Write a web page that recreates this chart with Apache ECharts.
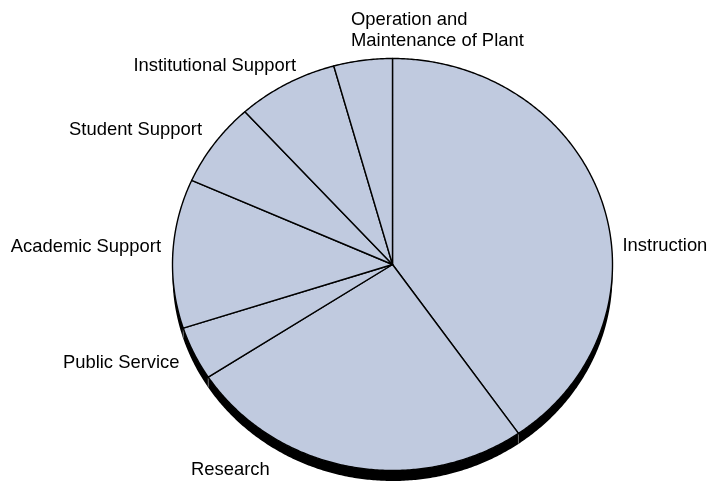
<!DOCTYPE html>
<html>
<head>
<meta charset="utf-8">
<script src="https://cdn.jsdelivr.net/npm/echarts@6/dist/echarts.min.js"></script>
<style>
  html, body { margin: 0; padding: 0; background: #ffffff; }
  #chart { width: 707px; height: 485px; }
</style>
</head>
<body>
<div id="chart"></div>
<script>
// Expenditure categories, clockwise from 12 o'clock
const categories = [
  'Instruction',
  'Research',
  'Public Service',
  'Academic Support',
  'Student Support',
  'Institutional Support',
  'Operation and\nMaintenance of Plant'
];
// Share of total (percent)
const shares = [40.3, 25.5, 4.2, 11.7, 6.6, 7.4, 4.3];

// Tilted disc geometry: elliptical face plus a dark rim underneath
const PIE = { cx: 392.5, cy: 264.5, rx: 220, ry: 206, depth: 10.5 };

// Label anchors, as offsets from the pie centre
const labelLayout = [
  { dx: 230,    dy: -18.5, align: 'left'  },
  { dx: -201.5, dy: 205.5, align: 'left'  },
  { dx: -213,   dy: 98.5,  align: 'right' },
  { dx: -231.5, dy: -17.5, align: 'right' },
  { dx: -190.5, dy: -134.5,align: 'right' },
  { dx: -96.5,  dy: -198.5,align: 'right' },
  { dx: -41.5,  dy: -234,  align: 'left'  }
];

const FACE = '#c0cadf';
const FONT = '18.4px "Liberation Sans", Arial, Helvetica, sans-serif';

function pointAt(theta, shift) {
  return [
    PIE.cx + PIE.rx * Math.sin(theta),
    PIE.cy - PIE.ry * Math.cos(theta) + (shift || 0)
  ];
}

function arcPoints(a0, a1, shift) {
  const pts = [];
  const n = Math.max(2, Math.ceil((a1 - a0) / (Math.PI / 360)));
  for (let k = 0; k <= n; k++) {
    pts.push(pointAt(a0 + (a1 - a0) * k / n, shift));
  }
  return pts;
}

function renderItem(params, api) {
  const i = params.dataIndex;
  const total = shares.reduce((a, b) => a + b, 0);
  let before = 0;
  for (let k = 0; k < i; k++) before += shares[k];
  const value = api.value(0);
  const a0 = before / total * Math.PI * 2;
  const a1 = (before + value) / total * Math.PI * 2;

  const top = arcPoints(a0, a1, 0);
  const bottom = arcPoints(a0, a1, PIE.depth).reverse();

  const children = [
    {
      type: 'polygon',
      z2: 1,
      shape: { points: top.concat(bottom) },
      style: { fill: '#000000' }
    },
    {
      type: 'polygon',
      z2: 10,
      shape: { points: [[PIE.cx, PIE.cy]].concat(top) },
      style: { fill: FACE, stroke: '#000000', lineWidth: 1.4, lineJoin: 'round' }
    }
  ];

  // faint seam on the rim where a slice edge meets the lower half
  if (a0 > Math.PI / 2 && a0 < Math.PI * 1.5) {
    const p = pointAt(a0, 0);
    children.push({
      type: 'line',
      z2: 5,
      shape: { x1: p[0], y1: p[1] + 1, x2: p[0], y2: p[1] + PIE.depth - 1 },
      style: { stroke: '#6a6a6a', lineWidth: 1 }
    });
  }

  const lay = labelLayout[i];
  children.push({
    type: 'text',
    z2: 20,
    x: PIE.cx + lay.dx,
    y: PIE.cy + lay.dy,
    style: {
      text: categories[i],
      fill: '#000000',
      font: FONT,
      align: lay.align,
      textAlign: lay.align,
      verticalAlign: 'middle',
      textVerticalAlign: 'middle',
      lineHeight: 21
    }
  });

  return { type: 'group', children: children };
}

const chart = echarts.init(document.getElementById('chart'), null, { renderer: 'canvas' });
chart.setOption({
  animation: false,
  backgroundColor: '#ffffff',
  series: [{
    type: 'custom',
    coordinateSystem: 'none',
    silent: true,
    renderItem: renderItem,
    data: shares.map((v, i) => ({ name: categories[i], value: v }))
  }]
});
</script>
</body>
</html>
